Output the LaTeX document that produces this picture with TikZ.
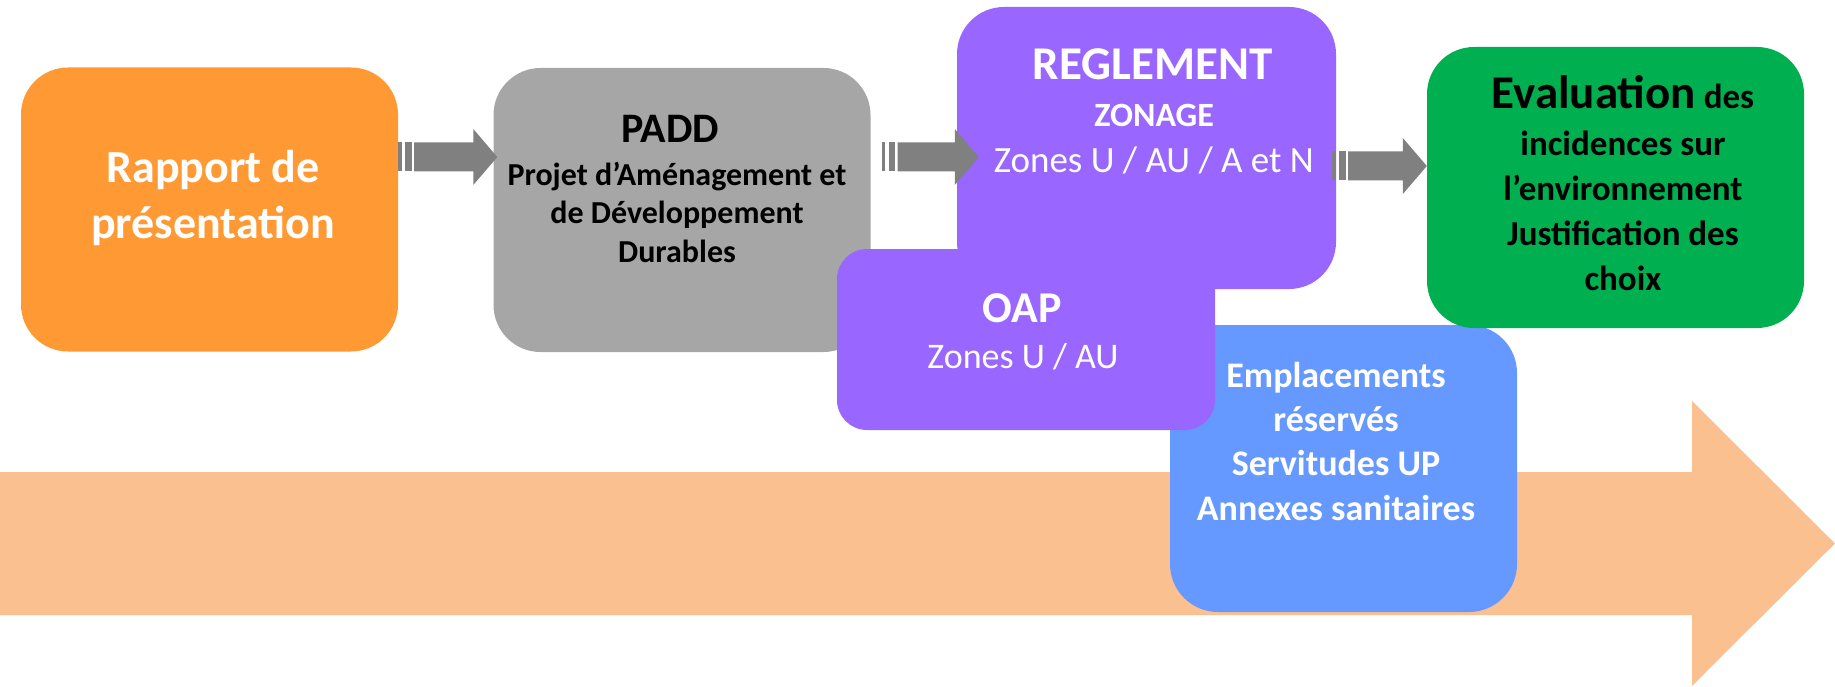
\documentclass[tikz,border=0pt]{standalone}
\usepackage{fontspec}
\setmainfont{Carlito}
\usepackage{xcolor}
\usetikzlibrary{calc, positioning}

\definecolor{rapportorange}{HTML}{FF9933}
\definecolor{paddgray}{HTML}{A6A6A6}
\definecolor{reglementpurple}{HTML}{9966FF}
\definecolor{evalgreen}{HTML}{00B050}
\definecolor{annexesblue}{HTML}{6699FF}
\definecolor{timelineorange}{HTML}{FAC090}
\definecolor{arrowgray}{HTML}{808080}

\newcommand{\stripedarrow}[2]{%
    \fill [arrowgray] ($(#1)+(0,-14.5)$) rectangle ($(#1)+(3.5,14.5)$);
    \fill [arrowgray] ($(#1)+(7,-14.5)$) rectangle ($(#1)+(13.5,14.5)$);
    \fill [arrowgray] ($(#1)+(16,-14.5)$) -- ($(#2)+(-24,-14.5)$) -- ($(#2)+(-24,-28)$) -- (#2)
        -- ($(#2)+(-24,28)$) -- ($(#2)+(-24,14.5)$) -- ($(#1)+(16,14.5)$) -- cycle;
}

\begin{document}
\begin{tikzpicture}[x=1pt, y=-1pt,
        box/.style={rectangle, rounded corners=47pt, minimum width=377pt, minimum height=284pt, inner sep=0pt},
        boxtext/.style={anchor=base, inner sep=0pt, align=center}]
    \useasboundingbox (0,0) rectangle (1835,687);

    % long arrow in the background
    \fill [timelineorange] (0,472) -- (1692,472) -- (1692,401) -- (1835,543.5) -- (1692,686) -- (1692,615) -- (0,615) -- cycle;

    \node [box, fill=annexesblue, minimum width=347pt, minimum height=287pt, rounded corners=48pt] (annexes) at (1343.5,468.5) {};
    \node [box, fill=rapportorange] (rapport) at (209.5,209.5) {};
    \node [box, fill=paddgray] (padd) at (682,210) {};
    \node [box, fill=reglementpurple, minimum width=379pt, minimum height=282pt] (reglement) at (1146.5,148) {};
    \node [box, fill=evalgreen, minimum height=281pt] (eval) at (1615.5,187.5) {};
    \node [box, fill=reglementpurple, minimum width=378pt, minimum height=181pt, rounded corners=30pt] (oap) at (1026,339.5) {};

    % multi-line texts: base is the last line
    \node [boxtext, text=white, font=\bfseries\fontsize{46}{56}\selectfont] (rapportT) at (213,238) { Rapport de\\présentation };

    \node [boxtext, font=\bfseries\fontsize{42}{42}\selectfont] (paddT) at (675,143) { PADD };
    \node [boxtext, font=\bfseries\fontsize{32}{38.5}\selectfont] (paddS) at (677,262) { Projet d’Aménagement et\\de Développement\\Durables };

    \node [boxtext, text=white, font=\bfseries\fontsize{47}{47}\selectfont] (reglementT) at (1158,80) { REGLEMENT };
    \node [boxtext, text=white, font=\bfseries\fontsize{34}{34}\selectfont] (zonage) at (1158,127) { ZONAGE };
    \node [boxtext, text=white, font=\fontsize{37}{37}\selectfont] (zones) at (1158,172) { Zones U / AU / A et N };

    \node [boxtext, text=white, font=\bfseries\fontsize{44}{44}\selectfont] (oapT) at (1027,322) { OAP };
    \node [boxtext, text=white, font=\fontsize{36}{36}\selectfont] (oapS) at (1027,368) { Zones U / AU };

    \node [boxtext, font=\bfseries\fontsize{35}{45}\selectfont] (evalT) at (1623,290) { {\fontsize{47}{45}\selectfont Evaluation} des\\[2pt]incidences sur\\l’environnement\\Justification des\\choix };

    \node [boxtext, text=white, font=\bfseries\fontsize{36}{44.3}\selectfont] (annexesT) at (1336,520) { Emplacements\\réservés\\Servitudes UP\\Annexes sanitaires };

    \coordinate (row1) at (0,157);
    \coordinate (row2) at (0,166);
    \coordinate (a1s) at (rapport.east |- row1);
    \coordinate (a1t) at ($(padd.west |- row1)+(4,0)$);
    \coordinate (a2s) at ($(padd.east |- row1)+(11,0)$);
    \coordinate (a2t) at ($(reglement.west |- row1)+(22,0)$);
    \coordinate (a3s) at ($(reglement.east |- row2)+(-4,0)$);
    \coordinate (a3t) at (eval.west |- row2);

    \stripedarrow{a1s}{a1t}
    \stripedarrow{a2s}{a2t}
    \stripedarrow{a3s}{a3t}
\end{tikzpicture}
\end{document}
